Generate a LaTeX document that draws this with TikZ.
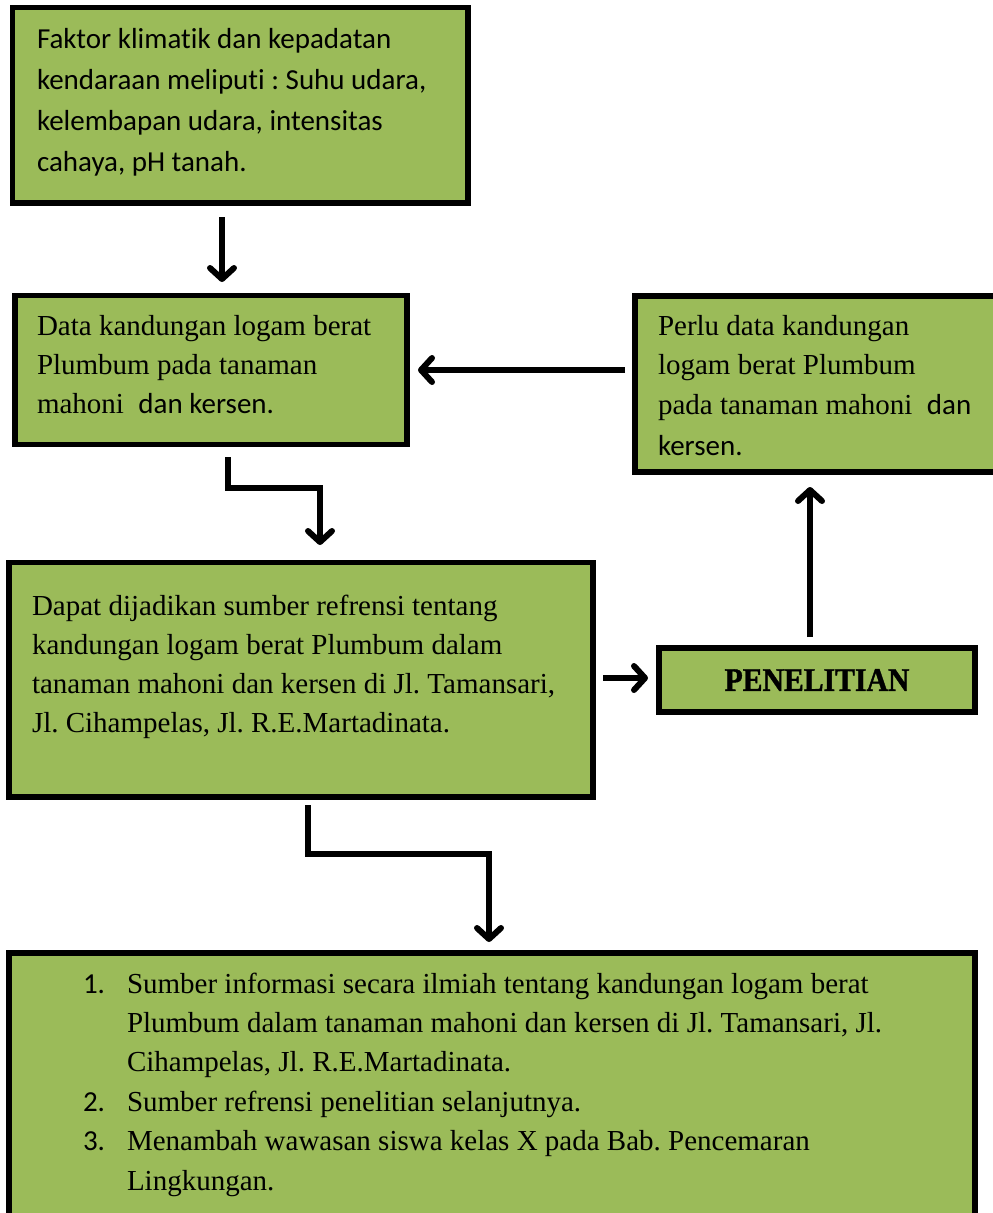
\documentclass[tikz,border=0pt]{standalone}
\usepackage{fontspec}
\setmainfont{Liberation Serif}
\newfontfamily\calib[Ligatures=NoCommon]{Carlito}
\newfontfamily\penfont[FakeStretch=0.9,FakeBold=1.2]{Liberation Serif}
\usetikzlibrary{arrows.meta,calc}
\definecolor{olivegreen}{HTML}{9BBB59}
\tikzset{
  box/.style={draw=black, fill=olivegreen, line width=5.8pt, inner sep=0pt, outer sep=0pt, anchor=north west},
  txt/.style={anchor=base west, inner sep=0pt, outer sep=0pt},
  conn/.style={line width=5.3pt, line join=miter, -{Straight Barb[length=11pt,width=24pt,line width=6pt,round]}},
}
\newcommand\tb[1]{\parbox[t]{900pt}{\raggedright\frenchspacing #1}}
\begin{document}
\begin{tikzpicture}[x=1pt,y=-1pt]
\useasboundingbox (0,0) rectangle (993,1213);
% boxes
\node[box, minimum width=455.5pt, minimum height=195.5pt] (b1) at (12.5,7.5) {};
\node[box, minimum width=392pt, minimum height=149pt] (b2) at (15,295.5) {};
\node[box, minimum width=400pt, minimum height=176pt] (b3) at (635,296) {};
\node[box, minimum width=584pt, minimum height=234.5pt] (b4) at (9,562.5) {};
\node[box, minimum width=316pt, minimum height=64pt, font=\penfont\bfseries\fontsize{33}{38}\selectfont] (pen) at (659,648) {PENELITIAN};
\node[box, minimum width=966pt, minimum height=300pt] (b5) at (9,953) {};
% texts
\node[txt, font=\calib\fontsize{29}{41}\selectfont] (t1) at (37,48) {\tb{Faktor klimatik dan kepadatan\\
kendaraan meliputi : Suhu udara,\\
kelembapan udara, intensitas\\
cahaya, pH tanah.}};
\node[txt, font=\fontsize{29}{39}\selectfont] (t2) at (37,335) {\tb{Data kandungan logam berat\\
Plumbum pada tanaman\\
mahoni\ \ {\calib dan kersen.}}};
\node[txt, font=\fontsize{29}{39.5}\selectfont] (t3) at (658,335) {\tb{Perlu data kandungan\\
logam berat Plumbum\\
pada tanaman mahoni\ \ {\calib dan}\\[2pt]
{\calib kersen.}}};
\node[txt, font=\fontsize{29}{39.3}\selectfont] (t4) at (32,615) {\tb{Dapat dijadikan sumber refrensi tentang\\
kandungan logam berat Plumbum dalam\\
tanaman mahoni dan kersen di Jl. Tamansari,\\
Jl. Cihampelas, Jl. R.E.Martadinata.}};
\node[txt, font=\fontsize{29}{39.4}\selectfont] (t5) at (83,993) {\tb{\makebox[44pt][l]{\calib 1.}Sumber informasi secara ilmiah tentang kandungan logam berat\\
\hspace*{44pt}Plumbum dalam tanaman mahoni dan kersen di Jl. Tamansari, Jl.\\
\hspace*{44pt}Cihampelas, Jl. R.E.Martadinata.\\
\makebox[44pt][l]{\calib 2.}Sumber refrensi penelitian selanjutnya.\\
\makebox[44pt][l]{\calib 3.}Menambah wawasan siswa kelas X pada Bab. Pencemaran\\
\hspace*{44pt}Lingkungan.}};
% connectors
\draw[conn] ($(b1.south west)+(209.5,14)$) -- ($(b2.north west)+(207,-13.5)$);
\draw[conn] ($(b3.north west)+(-10,74)$) -- ($(b2.north east)+(11,74.5)$);
\draw[conn] ($(b2.south west)+(213,12.5)$) |- ($(b2.south west)+(305,43.5)$) -- ($(b4.north west)+(311,-17.5)$);
\draw[conn] ($(b4.south east)+(10,-119)$) -- ($(pen.north west)+(-11,30)$);
\draw[conn] ($(pen.north west)+(151,-11)$) -- ($(b3.south west)+(175,15)$);
\draw[conn] ($(b4.south west)+(299,8)$) |- ($(b4.south west)+(480,57)$) -- ($(b5.north west)+(480,-11)$);
\end{tikzpicture}
\end{document}
